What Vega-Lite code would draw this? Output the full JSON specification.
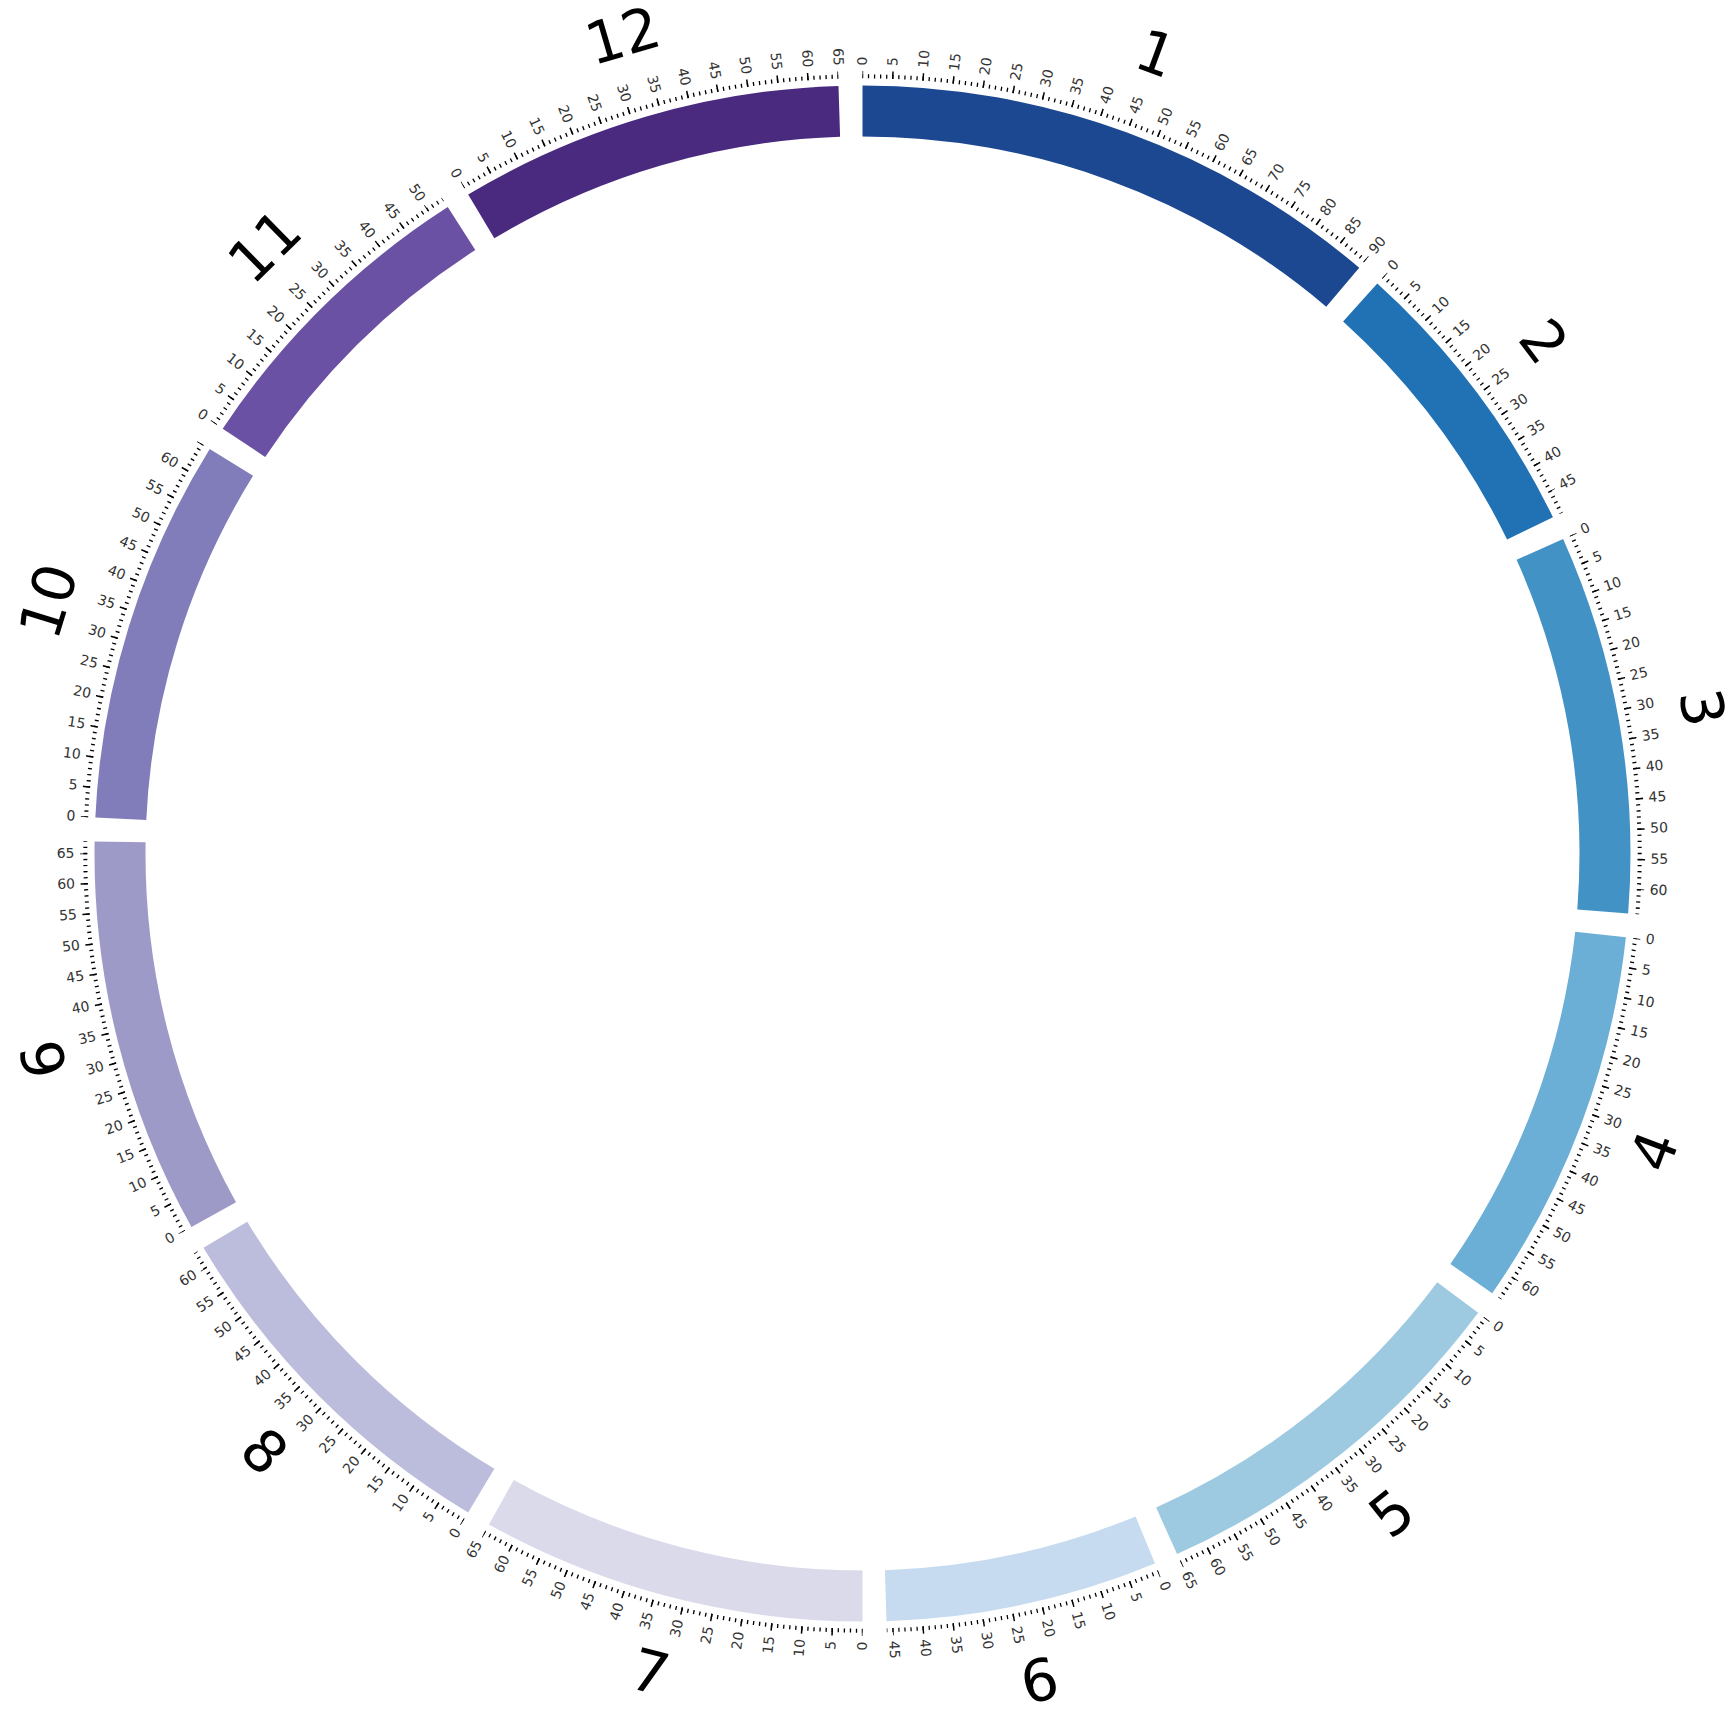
{
  "$schema": "https://vega.github.io/schema/vega-lite/v6.json",
  "width": 1725,
  "height": 1707,
  "autosize": {"type": "none"},
  "padding": {"left": 0, "top": 0, "right": 6, "bottom": 19},
  "background": "white",
  "config": {"view": {"stroke": null}},
  "data": {"values": [
    {"chr": 1, "len": 90}, {"chr": 2, "len": 49}, {"chr": 3, "len": 64}, {"chr": 4, "len": 64},
    {"chr": 5, "len": 65}, {"chr": 6, "len": 46}, {"chr": 7, "len": 65}, {"chr": 8, "len": 63},
    {"chr": 9, "len": 67}, {"chr": 10, "len": 65}, {"chr": 11, "len": 53}, {"chr": 12, "len": 65},
    {"chr":1,"v":0},{"chr":1,"v":5},{"chr":1,"v":10},{"chr":1,"v":15},{"chr":1,"v":20},{"chr":1,"v":25},{"chr":1,"v":30},{"chr":1,"v":35},{"chr":1,"v":40},{"chr":1,"v":45},{"chr":1,"v":50},{"chr":1,"v":55},{"chr":1,"v":60},{"chr":1,"v":65},{"chr":1,"v":70},{"chr":1,"v":75},{"chr":1,"v":80},{"chr":1,"v":85},{"chr":1,"v":90},
    {"chr":2,"v":0},{"chr":2,"v":5},{"chr":2,"v":10},{"chr":2,"v":15},{"chr":2,"v":20},{"chr":2,"v":25},{"chr":2,"v":30},{"chr":2,"v":35},{"chr":2,"v":40},{"chr":2,"v":45},
    {"chr":3,"v":0},{"chr":3,"v":5},{"chr":3,"v":10},{"chr":3,"v":15},{"chr":3,"v":20},{"chr":3,"v":25},{"chr":3,"v":30},{"chr":3,"v":35},{"chr":3,"v":40},{"chr":3,"v":45},{"chr":3,"v":50},{"chr":3,"v":55},{"chr":3,"v":60},
    {"chr":4,"v":0},{"chr":4,"v":5},{"chr":4,"v":10},{"chr":4,"v":15},{"chr":4,"v":20},{"chr":4,"v":25},{"chr":4,"v":30},{"chr":4,"v":35},{"chr":4,"v":40},{"chr":4,"v":45},{"chr":4,"v":50},{"chr":4,"v":55},{"chr":4,"v":60},
    {"chr":5,"v":0},{"chr":5,"v":5},{"chr":5,"v":10},{"chr":5,"v":15},{"chr":5,"v":20},{"chr":5,"v":25},{"chr":5,"v":30},{"chr":5,"v":35},{"chr":5,"v":40},{"chr":5,"v":45},{"chr":5,"v":50},{"chr":5,"v":55},{"chr":5,"v":60},{"chr":5,"v":65},
    {"chr":6,"v":0},{"chr":6,"v":5},{"chr":6,"v":10},{"chr":6,"v":15},{"chr":6,"v":20},{"chr":6,"v":25},{"chr":6,"v":30},{"chr":6,"v":35},{"chr":6,"v":40},{"chr":6,"v":45},
    {"chr":7,"v":0},{"chr":7,"v":5},{"chr":7,"v":10},{"chr":7,"v":15},{"chr":7,"v":20},{"chr":7,"v":25},{"chr":7,"v":30},{"chr":7,"v":35},{"chr":7,"v":40},{"chr":7,"v":45},{"chr":7,"v":50},{"chr":7,"v":55},{"chr":7,"v":60},{"chr":7,"v":65},
    {"chr":8,"v":0},{"chr":8,"v":5},{"chr":8,"v":10},{"chr":8,"v":15},{"chr":8,"v":20},{"chr":8,"v":25},{"chr":8,"v":30},{"chr":8,"v":35},{"chr":8,"v":40},{"chr":8,"v":45},{"chr":8,"v":50},{"chr":8,"v":55},{"chr":8,"v":60},
    {"chr":9,"v":0},{"chr":9,"v":5},{"chr":9,"v":10},{"chr":9,"v":15},{"chr":9,"v":20},{"chr":9,"v":25},{"chr":9,"v":30},{"chr":9,"v":35},{"chr":9,"v":40},{"chr":9,"v":45},{"chr":9,"v":50},{"chr":9,"v":55},{"chr":9,"v":60},{"chr":9,"v":65},
    {"chr":10,"v":0},{"chr":10,"v":5},{"chr":10,"v":10},{"chr":10,"v":15},{"chr":10,"v":20},{"chr":10,"v":25},{"chr":10,"v":30},{"chr":10,"v":35},{"chr":10,"v":40},{"chr":10,"v":45},{"chr":10,"v":50},{"chr":10,"v":55},{"chr":10,"v":60},
    {"chr":11,"v":0},{"chr":11,"v":5},{"chr":11,"v":10},{"chr":11,"v":15},{"chr":11,"v":20},{"chr":11,"v":25},{"chr":11,"v":30},{"chr":11,"v":35},{"chr":11,"v":40},{"chr":11,"v":45},{"chr":11,"v":50},
    {"chr":12,"v":0},{"chr":12,"v":5},{"chr":12,"v":10},{"chr":12,"v":15},{"chr":12,"v":20},{"chr":12,"v":25},{"chr":12,"v":30},{"chr":12,"v":35},{"chr":12,"v":40},{"chr":12,"v":45},{"chr":12,"v":50},{"chr":12,"v":55},{"chr":12,"v":60},{"chr":12,"v":65}
  ]},
  "transform": [
    {"calculate": "isValid(datum.len) ? datum.len + 4 : 0", "as": "span"},
    {"joinaggregate": [{"op": "sum", "field": "span", "as": "chrspan"}], "groupby": ["chr"]},
    {"window": [{"op": "sum", "field": "span", "as": "cum"}], "sort": [{"field": "chr", "order": "ascending"}], "frame": [null, 0], "ignorePeers": false},
    {"calculate": "datum.cum - datum.chrspan", "as": "start"},
    {"calculate": "isValid(datum.v) ? datum.start + datum.v : datum.start + datum.len / 2", "as": "pos"},
    {"calculate": "datum.start + datum.len", "as": "end"},
    {"calculate": "datum.start + floor(datum.len / 5) * 5", "as": "mEnd"},
    {"calculate": "datum.pos / 804 * 360", "as": "deg"},
    {"calculate": "datum.deg < 180 ? datum.deg - 90 : datum.deg + 90 - 360", "as": "tAng"},
    {"calculate": "(datum.deg > 90 && datum.deg < 270) ? datum.deg - 180 : datum.deg", "as": "bAng"}
  ],
  "layer": [
    {
      "transform": [{"filter": "isValid(datum.len)"}],
      "mark": {"type": "arc", "radius": 768, "radius2": 717},
      "encoding": {
        "theta": {"field": "start", "type": "quantitative", "stack": null, "scale": {"domain": [0, 804], "range": [0, 6.283185307179586]}},
        "theta2": {"field": "end"},
        "color": {"field": "chr", "type": "nominal", "legend": null,
          "scale": {"domain": [1,2,3,4,5,6,7,8,9,10,11,12],
            "range": ["#1b4891", "#2171b5", "#4292c6", "#6baed6", "#9ecae1", "#c6dbef", "#dadaeb", "#bcbddc", "#9e9ac8", "#807dba", "#6a51a3", "#4a2a7f"]}}
      }
    },
    {
      "transform": [{"filter": "isValid(datum.len)"}],
      "mark": {"type": "arc", "radius": 777.2, "radius2": 777.2, "filled": false, "stroke": "black", "strokeWidth": 4, "strokeDash": [1.2, 4.873746], "strokeDashOffset": 0.6},
      "encoding": {
        "theta": {"field": "start", "type": "quantitative", "stack": null, "scale": {"domain": [0, 804], "range": [0, 6.283185307179586]}},
        "theta2": {"field": "end"}
      }
    },
    {
      "transform": [{"filter": "isValid(datum.len)"}],
      "mark": {"type": "arc", "radius": 778.85, "radius2": 778.85, "filled": false, "stroke": "black", "strokeWidth": 7.3, "strokeDash": [1.4, 29.03317], "strokeDashOffset": 0.7},
      "encoding": {
        "theta": {"field": "start", "type": "quantitative", "stack": null, "scale": {"domain": [0, 804], "range": [0, 6.283185307179586]}},
        "theta2": {"field": "mEnd"}
      }
    },
    {
      "transform": [{"filter": "isValid(datum.v) && datum.deg < 180"}],
      "mark": {"type": "text", "radius": 788, "align": "left", "baseline": "middle", "font": "DejaVu Sans", "fontSize": 14, "color": "#333333"},
      "encoding": {
        "theta": {"field": "pos", "type": "quantitative", "stack": null, "scale": {"domain": [0, 804], "range": [0, 6.283185307179586]}},
        "angle": {"field": "tAng", "type": "quantitative", "scale": null},
        "text": {"field": "v", "type": "nominal"}
      }
    },
    {
      "transform": [{"filter": "isValid(datum.v) && datum.deg >= 180"}],
      "mark": {"type": "text", "radius": 788, "align": "right", "baseline": "middle", "font": "DejaVu Sans", "fontSize": 14, "color": "#333333"},
      "encoding": {
        "theta": {"field": "pos", "type": "quantitative", "stack": null, "scale": {"domain": [0, 804], "range": [0, 6.283185307179586]}},
        "angle": {"field": "tAng", "type": "quantitative", "scale": null},
        "text": {"field": "v", "type": "nominal"}
      }
    },
    {
      "transform": [{"filter": "isValid(datum.len)"}],
      "mark": {"type": "text", "radius": 849, "align": "center", "baseline": "middle", "font": "DejaVu Sans", "fontSize": 58, "color": "black"},
      "encoding": {
        "theta": {"field": "pos", "type": "quantitative", "stack": null, "scale": {"domain": [0, 804], "range": [0, 6.283185307179586]}},
        "angle": {"field": "bAng", "type": "quantitative", "scale": null},
        "text": {"field": "chr", "type": "nominal"}
      }
    }
  ]
}
